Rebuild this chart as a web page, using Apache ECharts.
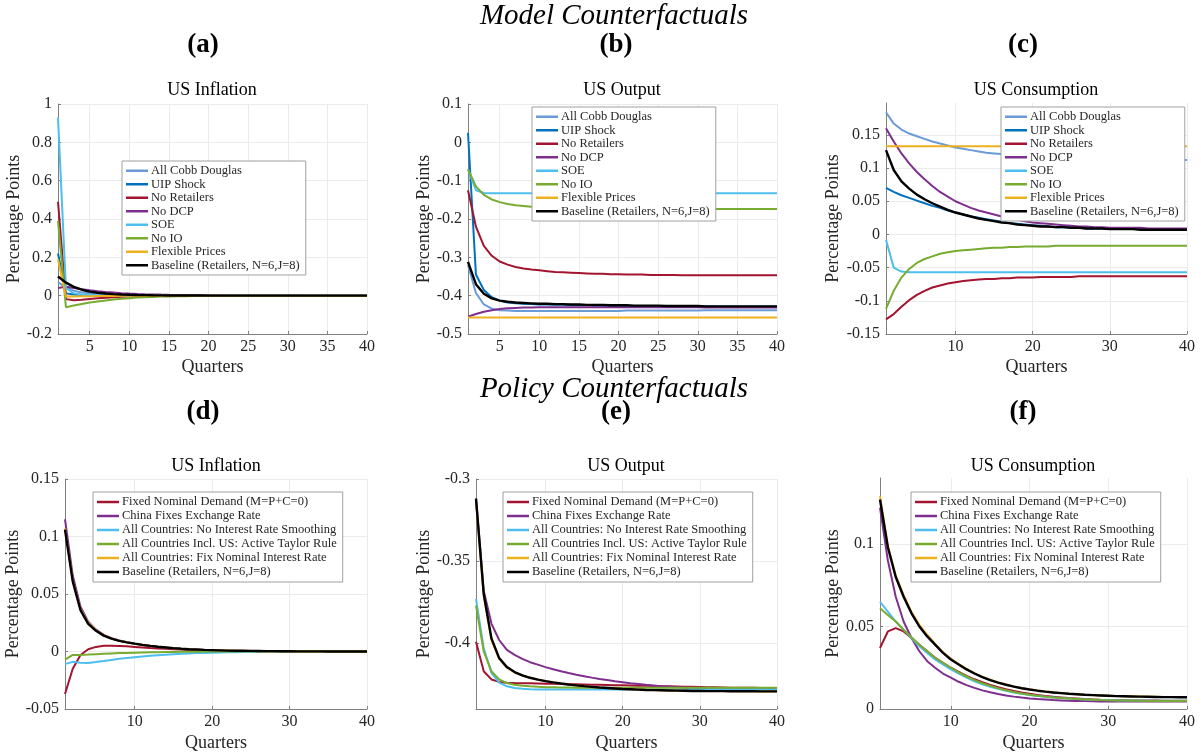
<!DOCTYPE html>
<html>
<head>
<meta charset="utf-8">
<script src="https://cdn.jsdelivr.net/npm/echarts@6/dist/echarts.min.js"></script>
<style>
  html, body { margin: 0; padding: 0; background: #fff; }
  #main { width: 1201px; height: 755px; }
</style>
</head>
<body>
<div id="main"></div>
<script>
// quarters on the x axis
var quarters = [1,2,3,4,5,6,7,8,9,10,11,12,13,14,15,16,17,18,19,20,
  21,22,23,24,25,26,27,28,29,30,31,32,33,34,35,36,37,38,39,40];

// ---- (a) US Inflation, model counterfactuals
var aCobb = [0.07,0.042,0.026,0.017,0.012,0.0085,0.0062,0.0047,0.0036,0.0028,
  0.0022,0.0017,0.0013,0.001,0.0008,0.0006,0.0005,0.0004,0.0003,0.0002,
  0.0002,0.0001,0.0001,0.0001,0,0,0,0,0,0, 0,0,0,0,0,0,0,0,0,0];
var aUIP = [0.22,0.012,0.006,0.004,0.003,0.002,0.0015,0.001,0.0008,0.0006,
  0.0005,0.0004,0.0003,0.0002,0.0002,0.0001,0.0001,0.0001,0,0,
  0,0,0,0,0,0,0,0,0,0, 0,0,0,0,0,0,0,0,0,0];
var aNoRet = [0.49,-0.018,-0.024,-0.021,-0.017,-0.014,-0.011,-0.008,-0.006,-0.0045,
  -0.0035,-0.0025,-0.002,-0.0015,-0.001,-0.0008,-0.0006,-0.0004,-0.0003,-0.0002,
  -0.0001,-0.0001,0,0,0,0,0,0,0,0, 0,0,0,0,0,0,0,0,0,0];
var aNoDCP = [0.04,0.046,0.04,0.034,0.028,0.023,0.019,0.016,0.013,0.011,
  0.0093,0.0078,0.0066,0.0056,0.0047,0.004,0.0034,0.0029,0.0024,0.002,
  0.0017,0.0014,0.0012,0.001,0.0008,0.0007,0.0006,0.0005,0.0004,0.0003,
  0.0003,0.0002,0.0002,0.0002,0.0001,0.0001,0.0001,0.0001,0,0];
var aSOE = [0.93,0.04,0.012,0.006,0.004,0.003,0.002,0.0015,0.001,0.0008,
  0.0006,0.0005,0.0004,0.0003,0.0002,0.0002,0.0001,0.0001,0.0001,0,
  0,0,0,0,0,0,0,0,0,0, 0,0,0,0,0,0,0,0,0,0];
var aNoIO = [0.39,-0.06,-0.051,-0.043,-0.036,-0.03,-0.025,-0.02,-0.016,-0.013,
  -0.01,-0.008,-0.0065,-0.005,-0.004,-0.003,-0.0025,-0.002,-0.0015,-0.001,
  -0.0008,-0.0006,-0.0005,-0.0004,-0.0003,-0.0002,-0.0002,-0.0001,-0.0001,0,
  0,0,0,0,0,0,0,0,0,0];
var aFlex = [0.19,-0.004,-0.004,-0.003,-0.003,-0.002,-0.002,-0.0015,-0.001,-0.001,
  -0.0008,-0.0006,-0.0005,-0.0004,-0.0003,-0.0002,-0.0002,-0.0001,-0.0001,0,
  0,0,0,0,0,0,0,0,0,0, 0,0,0,0,0,0,0,0,0,0];
var aBase = [0.1,0.068,0.046,0.031,0.021,0.015,0.011,0.008,0.006,0.0045,
  0.0035,0.0027,0.002,0.0016,0.0012,0.001,0.0008,0.0006,0.0005,0.0004,
  0.0003,0.0002,0.0002,0.0001,0.0001,0.0001,0,0,0,0, 0,0,0,0,0,0,0,0,0,0];

// ---- (b) US Output, model counterfactuals
var bCobb = [-0.32,-0.393,-0.423,-0.434,-0.438,-0.439,-0.44,-0.44,-0.44,-0.44,
  -0.44,-0.44,-0.44,-0.44,-0.44,-0.44,-0.44,-0.44,-0.44,-0.44,
  -0.439,-0.439,-0.439,-0.439,-0.439,-0.439,-0.439,-0.439,-0.439,-0.439,
  -0.438,-0.438,-0.438,-0.438,-0.438,-0.438,-0.438,-0.438,-0.438,-0.438];
var bUIP = [0.025,-0.345,-0.385,-0.404,-0.413,-0.418,-0.42,-0.421,-0.422,-0.423,
  -0.423,-0.424,-0.424,-0.425,-0.425,-0.425,-0.426,-0.426,-0.426,-0.426,
  -0.427,-0.427,-0.427,-0.427,-0.427,-0.428,-0.428,-0.428,-0.428,-0.428,
  -0.428,-0.428,-0.429,-0.429,-0.429,-0.429,-0.429,-0.429,-0.429,-0.429];
var bNoRet = [-0.125,-0.22,-0.27,-0.296,-0.311,-0.319,-0.325,-0.329,-0.332,-0.334,
  -0.336,-0.338,-0.339,-0.34,-0.341,-0.342,-0.343,-0.343,-0.344,-0.344,
  -0.345,-0.345,-0.345,-0.346,-0.346,-0.346,-0.346,-0.347,-0.347,-0.347,
  -0.347,-0.347,-0.347,-0.347,-0.347,-0.347,-0.347,-0.347,-0.347,-0.347];
var bNoDCP = [-0.455,-0.448,-0.442,-0.438,-0.435,-0.433,-0.432,-0.431,-0.431,-0.43,
  -0.43,-0.43,-0.43,-0.43,-0.43,-0.43,-0.43,-0.43,-0.43,-0.43,
  -0.43,-0.43,-0.43,-0.43,-0.43,-0.43,-0.43,-0.43,-0.43,-0.43,
  -0.431,-0.431,-0.431,-0.431,-0.431,-0.431,-0.431,-0.431,-0.431,-0.431];
var bSOE = [-0.07,-0.125,-0.132,-0.133,-0.133,-0.133,-0.133,-0.133,-0.133,-0.133,
  -0.133,-0.133,-0.133,-0.133,-0.133,-0.133,-0.133,-0.133,-0.133,-0.133,
  -0.133,-0.133,-0.133,-0.133,-0.133,-0.133,-0.133,-0.133,-0.133,-0.133,
  -0.133,-0.133,-0.133,-0.133,-0.133,-0.133,-0.133,-0.133,-0.133,-0.133];
var bNoIO = [-0.07,-0.115,-0.137,-0.149,-0.156,-0.161,-0.164,-0.166,-0.168,-0.169,
  -0.17,-0.171,-0.171,-0.172,-0.172,-0.172,-0.173,-0.173,-0.173,-0.173,
  -0.173,-0.173,-0.173,-0.173,-0.173,-0.173,-0.173,-0.173,-0.173,-0.173,
  -0.174,-0.174,-0.174,-0.174,-0.174,-0.174,-0.174,-0.174,-0.174,-0.174];
var bFlex = [-0.457,-0.457,-0.457,-0.457,-0.457,-0.457,-0.457,-0.457,-0.457,-0.457,
  -0.457,-0.457,-0.457,-0.457,-0.457,-0.457,-0.457,-0.457,-0.457,-0.457,
  -0.457,-0.457,-0.457,-0.457,-0.457,-0.457,-0.457,-0.457,-0.457,-0.457,
  -0.457,-0.457,-0.457,-0.457,-0.457,-0.457,-0.457,-0.457,-0.457,-0.457];
var bBase = [-0.312,-0.37,-0.395,-0.407,-0.413,-0.416,-0.418,-0.419,-0.42,-0.421,
  -0.421,-0.422,-0.422,-0.423,-0.423,-0.424,-0.424,-0.424,-0.425,-0.425,
  -0.425,-0.426,-0.426,-0.426,-0.426,-0.427,-0.427,-0.427,-0.427,-0.427,
  -0.428,-0.428,-0.428,-0.428,-0.428,-0.428,-0.428,-0.428,-0.428,-0.428];

// ---- (c) US Consumption, model counterfactuals
var cCobb = [0.184,0.167,0.158,0.152,0.148,0.144,0.14,0.137,0.134,0.131,
  0.129,0.127,0.125,0.123,0.122,0.121,0.12,0.119,0.118,0.117,
  0.117,0.116,0.116,0.115,0.115,0.115,0.114,0.114,0.114,0.114,
  0.113,0.113,0.113,0.113,0.113,0.113,0.112,0.112,0.112,0.112];
var cUIP = [0.07,0.064,0.059,0.055,0.051,0.047,0.043,0.04,0.036,0.033,
  0.03,0.027,0.025,0.023,0.021,0.019,0.017,0.016,0.015,0.014,
  0.013,0.012,0.011,0.011,0.01,0.01,0.009,0.009,0.009,0.008,
  0.008,0.008,0.008,0.008,0.007,0.007,0.007,0.007,0.007,0.007];
var cNoRet = [-0.128,-0.12,-0.109,-0.099,-0.091,-0.085,-0.08,-0.077,-0.074,-0.072,
  -0.07,-0.069,-0.068,-0.067,-0.067,-0.066,-0.066,-0.065,-0.065,-0.065,
  -0.064,-0.064,-0.064,-0.064,-0.064,-0.063,-0.063,-0.063,-0.063,-0.063,
  -0.063,-0.063,-0.063,-0.063,-0.063,-0.063,-0.063,-0.063,-0.063,-0.063];
var cNoDCP = [0.16,0.14,0.122,0.107,0.094,0.083,0.073,0.064,0.057,0.05,
  0.045,0.04,0.036,0.033,0.03,0.027,0.025,0.022,0.02,0.018,
  0.017,0.016,0.015,0.014,0.013,0.012,0.012,0.011,0.011,0.01,
  0.01,0.01,0.01,0.01,0.009,0.009,0.009,0.009,0.009,0.009];
var cSOE = [-0.008,-0.05,-0.056,-0.057,-0.057,-0.057,-0.057,-0.057,-0.057,-0.057,
  -0.057,-0.057,-0.057,-0.057,-0.057,-0.057,-0.057,-0.057,-0.057,-0.057,
  -0.057,-0.057,-0.057,-0.057,-0.057,-0.057,-0.057,-0.057,-0.057,-0.057,
  -0.057,-0.057,-0.057,-0.057,-0.057,-0.057,-0.057,-0.057,-0.057,-0.057];
var cNoIO = [-0.112,-0.085,-0.065,-0.052,-0.043,-0.037,-0.033,-0.029,-0.027,-0.025,
  -0.024,-0.023,-0.022,-0.021,-0.02,-0.02,-0.019,-0.019,-0.018,-0.018,
  -0.018,-0.018,-0.017,-0.017,-0.017,-0.017,-0.017,-0.017,-0.017,-0.017,
  -0.017,-0.017,-0.017,-0.017,-0.017,-0.017,-0.017,-0.017,-0.017,-0.017];
var cFlex = [0.133,0.133,0.133,0.133,0.133,0.133,0.133,0.133,0.133,0.133,
  0.133,0.133,0.133,0.133,0.133,0.133,0.133,0.133,0.133,0.133,
  0.133,0.133,0.133,0.133,0.133,0.133,0.133,0.133,0.133,0.133,
  0.133,0.133,0.133,0.133,0.133,0.133,0.133,0.133,0.133,0.133];
var cBase = [0.127,0.097,0.08,0.069,0.06,0.053,0.047,0.042,0.037,0.033,
  0.03,0.027,0.024,0.022,0.02,0.018,0.017,0.015,0.014,0.013,
  0.012,0.012,0.011,0.011,0.01,0.01,0.009,0.009,0.009,0.008,
  0.008,0.008,0.008,0.007,0.007,0.007,0.007,0.007,0.007,0.007];

// ---- (d) US Inflation, policy counterfactuals
var dFND = [-0.037,-0.015,-0.003,0.002,0.004,0.005,0.005,0.0048,0.0045,0.004,
  0.0035,0.003,0.0027,0.0023,0.002,0.0017,0.0014,0.0012,0.001,0.0008,
  0.0006,0.0005,0.0004,0.0003,0.0003,0.0002,0.0002,0.0001,0.0001,0.0001,
  0,0,0,0,0,0,0,0,0,0];
var dChina = [0.115,0.066,0.039,0.026,0.019,0.0145,0.0115,0.0095,0.008,0.0067,
  0.0057,0.0048,0.004,0.0034,0.0028,0.0023,0.0019,0.0016,0.0013,0.0011,
  0.0009,0.0007,0.0006,0.0005,0.0004,0.0003,0.0003,0.0002,0.0002,0.0001,
  0.0001,0.0001,0,0,0,0,0,0,0,0];
var dNoSmooth = [-0.011,-0.009,-0.0098,-0.0099,-0.0092,-0.0083,-0.0073,-0.0064,-0.0056,-0.0049,
  -0.0043,-0.0037,-0.0032,-0.0028,-0.0024,-0.002,-0.0017,-0.0014,-0.0012,-0.001,
  -0.0008,-0.0007,-0.0006,-0.0005,-0.0004,-0.0003,-0.0003,-0.0002,-0.0002,-0.0001,
  -0.0001,0,0,0,0,0,0,0,0,0];
var dTaylor = [-0.007,-0.003,-0.003,-0.0027,-0.0023,-0.002,-0.0017,-0.0014,-0.0012,-0.001,
  -0.0008,-0.0007,-0.0006,-0.0005,-0.0004,-0.0003,-0.0002,-0.0002,-0.0001,-0.0001,
  0,0,0,0,0,0,0,0,0,0, 0,0,0,0,0,0,0,0,0,0];
var dFixR = [0.107,0.062,0.037,0.025,0.0185,0.0142,0.0114,0.0094,0.008,0.0068,
  0.0058,0.0049,0.0041,0.0035,0.0029,0.0024,0.002,0.0017,0.0014,0.0012,
  0.001,0.0008,0.0007,0.0006,0.0005,0.0004,0.0003,0.0003,0.0002,0.0002,
  0.0001,0.0001,0.0001,0.0001,0,0,0,0,0,0];
var dBase = [0.106,0.061,0.036,0.024,0.018,0.0138,0.0112,0.0093,0.0079,0.0068,
  0.0058,0.0049,0.0041,0.0035,0.0029,0.0024,0.002,0.0017,0.0014,0.0012,
  0.001,0.0008,0.0007,0.0006,0.0005,0.0004,0.0003,0.0003,0.0002,0.0002,
  0.0001,0.0001,0.0001,0.0001,0,0,0,0,0,0];

// ---- (e) US Output, policy counterfactuals
var eFND = [-0.399,-0.417,-0.422,-0.4235,-0.424,-0.4242,-0.4243,-0.4244,-0.4245,-0.4246,
  -0.4247,-0.4248,-0.4249,-0.425,-0.4251,-0.4252,-0.4253,-0.4254,-0.4255,-0.4256,
  -0.4257,-0.4258,-0.4259,-0.426,-0.4261,-0.4262,-0.4263,-0.4264,-0.4265,-0.4266,
  -0.4267,-0.4268,-0.4269,-0.427,-0.427,-0.4271,-0.4271,-0.4272,-0.4272,-0.4273];
var eChina = [-0.312,-0.368,-0.388,-0.398,-0.404,-0.407,-0.4095,-0.4115,-0.413,-0.4145,
  -0.4158,-0.417,-0.4181,-0.4191,-0.42,-0.4209,-0.4217,-0.4224,-0.4231,-0.4237,
  -0.4243,-0.4248,-0.4253,-0.4257,-0.4261,-0.4264,-0.4267,-0.427,-0.4272,-0.4274,
  -0.4275,-0.4276,-0.4277,-0.4278,-0.4278,-0.4279,-0.4279,-0.4279,-0.428,-0.428];
var eNoSmooth = [-0.373,-0.403,-0.418,-0.424,-0.4262,-0.4272,-0.4277,-0.428,-0.4281,-0.4282,
  -0.4282,-0.4282,-0.4282,-0.4282,-0.4282,-0.4282,-0.4282,-0.4282,-0.4282,-0.4282,
  -0.4282,-0.4282,-0.4281,-0.4281,-0.4281,-0.4281,-0.4281,-0.4281,-0.428,-0.428,
  -0.428,-0.428,-0.428,-0.428,-0.428,-0.428,-0.428,-0.428,-0.428,-0.428];
var eTaylor = [-0.377,-0.405,-0.417,-0.422,-0.4242,-0.4252,-0.4258,-0.4262,-0.4265,-0.4267,
  -0.4268,-0.4269,-0.4269,-0.427,-0.427,-0.427,-0.427,-0.427,-0.427,-0.427,
  -0.427,-0.427,-0.427,-0.427,-0.427,-0.427,-0.427,-0.427,-0.427,-0.427,
  -0.427,-0.427,-0.427,-0.427,-0.427,-0.427,-0.427,-0.427,-0.427,-0.427];
var eFixR = [-0.313,-0.371,-0.398,-0.4095,-0.4148,-0.4177,-0.4196,-0.421,-0.4221,-0.423,
  -0.4238,-0.4245,-0.4251,-0.4256,-0.4261,-0.4265,-0.4269,-0.4272,-0.4275,-0.4278,
  -0.428,-0.4282,-0.4284,-0.4285,-0.4286,-0.4287,-0.4288,-0.4289,-0.429,-0.429,
  -0.4291,-0.4291,-0.4291,-0.4292,-0.4292,-0.4292,-0.4292,-0.4293,-0.4293,-0.4293];
var eBase = [-0.312,-0.37,-0.397,-0.409,-0.4145,-0.4175,-0.4195,-0.421,-0.4221,-0.423,
  -0.4238,-0.4245,-0.4251,-0.4256,-0.4261,-0.4265,-0.4269,-0.4272,-0.4275,-0.4278,
  -0.428,-0.4282,-0.4284,-0.4285,-0.4286,-0.4287,-0.4288,-0.4289,-0.429,-0.429,
  -0.4291,-0.4291,-0.4291,-0.4292,-0.4292,-0.4292,-0.4292,-0.4293,-0.4293,-0.4293];

// ---- (f) US Consumption, policy counterfactuals
var fFND = [0.037,0.047,0.049,0.047,0.043,0.039,0.035,0.031,0.028,0.025,
  0.0225,0.02,0.018,0.0162,0.0146,0.0132,0.012,0.0109,0.01,0.0092,
  0.0085,0.0079,0.0074,0.007,0.0066,0.0063,0.006,0.0058,0.0056,0.0055,
  0.0054,0.0053,0.0052,0.0052,0.0051,0.0051,0.005,0.005,0.005,0.005];
var fChina = [0.122,0.09,0.068,0.053,0.043,0.035,0.029,0.025,0.0215,0.019,
  0.0165,0.0145,0.0128,0.0113,0.0101,0.0091,0.0082,0.0075,0.0069,0.0064,
  0.006,0.0057,0.0054,0.0052,0.005,0.0049,0.0048,0.0047,0.0046,0.0046,
  0.0045,0.0045,0.0045,0.0045,0.0045,0.0045,0.0045,0.0045,0.0045,0.0045];
var fNoSmooth = [0.065,0.059,0.053,0.048,0.043,0.038,0.034,0.03,0.027,0.024,
  0.0215,0.019,0.0168,0.015,0.0135,0.0122,0.011,0.01,0.0092,0.0085,
  0.0079,0.0074,0.007,0.0066,0.0063,0.006,0.0058,0.0056,0.0055,0.0054,
  0.0053,0.0052,0.0051,0.0051,0.005,0.005,0.005,0.005,0.005,0.005];
var fTaylor = [0.061,0.057,0.053,0.048,0.0435,0.039,0.035,0.031,0.028,0.025,
  0.0222,0.0197,0.0175,0.0156,0.014,0.0126,0.0114,0.0103,0.0094,0.0087,
  0.008,0.0075,0.007,0.0066,0.0063,0.006,0.0058,0.0056,0.0054,0.0053,
  0.0052,0.0051,0.005,0.005,0.0049,0.0049,0.0048,0.0048,0.0048,0.0048];
var fFixR = [0.129,0.099,0.081,0.069,0.059,0.051,0.045,0.0395,0.0345,0.0305,
  0.0272,0.0243,0.0217,0.0195,0.0177,0.0161,0.0148,0.0137,0.0127,0.0119,
  0.0112,0.0106,0.0101,0.0097,0.0093,0.009,0.0087,0.0085,0.0083,0.0081,
  0.0079,0.0078,0.0077,0.0076,0.0075,0.0074,0.0073,0.0073,0.0072,0.0072];
var fBase = [0.127,0.098,0.08,0.068,0.058,0.05,0.044,0.039,0.034,0.03,
  0.027,0.024,0.0215,0.0193,0.0175,0.016,0.0147,0.0136,0.0126,0.0118,
  0.0111,0.0105,0.01,0.0096,0.0092,0.0089,0.0086,0.0084,0.0082,0.008,
  0.0078,0.0077,0.0076,0.0075,0.0074,0.0073,0.0072,0.0072,0.0071,0.0071];

// tick labels
var xTicks5 = [5,10,15,20,25,30,35,40];
var xTicks10 = [10,20,30,40];
var yTicksA = [-0.2,0,0.2,0.4,0.6,0.8,1];
var yTicksB = [-0.5,-0.4,-0.3,-0.2,-0.1,0,0.1];
var yTicksC = [-0.15,-0.1,-0.05,0,0.05,0.1,0.15];
var yTicksD = [-0.05,0,0.05,0.1,0.15];
var yTicksE = [-0.4,-0.35,-0.3];
var yTicksF = [0,0.05,0.1];

var modelNames = ['All Cobb Douglas','UIP Shock','No Retailers','No DCP','SOE','No IO',
  'Flexible Prices','Baseline (Retailers, N=6,J=8)'];
var policyNames = ['Fixed Nominal Demand (M=P+C=0)','China Fixes Exchange Rate',
  'All Countries: No Interest Rate Smoothing','All Countries Incl. US: Active Taylor Rule',
  'All Countries: Fix Nominal Interest Rate','Baseline (Retailers, N=6,J=8)'];
var modelColors = ['#6a9bd6','#0072BD','#A2142F','#7E2F8E','#4DBEEE','#77AC30','#EDB120','#000000'];
var policyColors = ['#A2142F','#7E2F8E','#4DBEEE','#77AC30','#EDB120','#000000'];

var FONT = '"Liberation Serif", "Times New Roman", serif';
var chart = echarts.init(document.getElementById('main'));

var grids = [
  {left: 58, top: 104, width: 309, height: 230},
  {left: 468, top: 104, width: 309, height: 230},
  {left: 886, top: 103, width: 301, height: 231},
  {left: 65, top: 479, width: 302, height: 230},
  {left: 476, top: 479, width: 301, height: 230},
  {left: 880, top: 478, width: 307, height: 231}
];
var xTickSets = [xTicks5, xTicks5, xTicks10, xTicks10, xTicks10, xTicks10];
var yTickSets = [yTicksA, yTicksB, yTicksC, yTicksD, yTicksE, yTicksF];
var yRanges = [[-0.2, 1], [-0.5, 0.1], [-0.15, 0.198], [-0.05, 0.15], [-0.44, -0.3], [0, 0.14]];
var yNameGaps = [34, 34, 44, 41, 42, 36];
var xNameGaps = [24, 24, 24, 25, 25, 25];

function fmt(v) { return String(+v.toFixed(2)); }

var xAxes = grids.map(function (g, i) {
  return {
    type: 'value', gridIndex: i, min: 1, max: 40,
    name: 'Quarters', nameLocation: 'middle', nameGap: xNameGaps[i],
    nameTextStyle: {fontFamily: FONT, fontSize: 18, color: '#262626'},
    axisLine: {show: true, onZero: false, lineStyle: {color: '#808080', width: 1}},
    axisTick: {show: true, inside: true, length: 3, customValues: xTickSets[i],
      lineStyle: {color: '#808080'}},
    axisLabel: {customValues: xTickSets[i], fontFamily: FONT, fontSize: 16,
      color: '#262626', margin: 5, formatter: fmt},
    splitLine: {show: true, lineStyle: {color: '#ebebeb', width: 1}}
  };
});
var yAxes = grids.map(function (g, i) {
  return {
    type: 'value', gridIndex: i, min: yRanges[i][0], max: yRanges[i][1],
    name: 'Percentage Points', nameLocation: 'middle', nameGap: yNameGaps[i],
    nameTextStyle: {fontFamily: FONT, fontSize: 18, color: '#262626'},
    axisLine: {show: true, onZero: false, lineStyle: {color: '#808080', width: 1}},
    axisTick: {show: true, inside: true, length: 3, customValues: yTickSets[i],
      lineStyle: {color: '#808080'}},
    axisLabel: {customValues: yTickSets[i], fontFamily: FONT, fontSize: 16,
      color: '#262626', margin: 6, formatter: fmt},
    splitLine: {show: true, lineStyle: {color: '#ebebeb', width: 1}}
  };
});

function mk(name, color, vals, idx) {
  return {
    name: name, type: 'line', xAxisIndex: idx, yAxisIndex: idx,
    data: quarters.map(function (q, k) { return [q, vals[k]]; }),
    showSymbol: false, symbol: 'none', color: color,
    lineStyle: {width: name.indexOf('Baseline') === 0 ? 2.4 : 2},
    emphasis: {disabled: true}
  };
}

var modelData = [
  [aCobb, aUIP, aNoRet, aNoDCP, aSOE, aNoIO, aFlex, aBase],
  [bCobb, bUIP, bNoRet, bNoDCP, bSOE, bNoIO, bFlex, bBase],
  [cCobb, cUIP, cNoRet, cNoDCP, cSOE, cNoIO, cFlex, cBase]
];
var policyData = [
  [dFND, dChina, dNoSmooth, dTaylor, dFixR, dBase],
  [eFND, eChina, eNoSmooth, eTaylor, eFixR, eBase],
  [fFND, fChina, fNoSmooth, fTaylor, fFixR, fBase]
];

var series = [];
modelData.forEach(function (set, p) {
  set.forEach(function (vals, k) { series.push(mk(modelNames[k], modelColors[k], vals, p)); });
});
policyData.forEach(function (set, p) {
  set.forEach(function (vals, k) { series.push(mk(policyNames[k], policyColors[k], vals, p + 3)); });
});

function legendAt(left, top, names, lh) {
  return {
    orient: 'vertical', left: left, top: top, data: names,
    icon: 'rect', itemWidth: 22, itemHeight: 2.5, itemGap: 0,
    padding: [3, 6, 3, 4], backgroundColor: '#fff',
    borderColor: '#a0a0a0', borderWidth: 1, borderRadius: 0,
    selectedMode: false,
    textStyle: {fontFamily: FONT, fontSize: 12.5, color: '#262626', lineHeight: lh, padding: [0, 0, 0, -2]}
  };
}

function txt(s, x, y, size, style, weight) {
  return {
    type: 'text', x: x, y: y, z: 100,
    style: {text: s, fill: '#000', align: 'center', verticalAlign: 'middle',
      fontFamily: FONT, fontSize: size, fontStyle: style || 'normal', fontWeight: weight || 'normal'}
  };
}

var option = {
  animation: false,
  backgroundColor: '#fff',
  grid: grids,
  xAxis: xAxes,
  yAxis: yAxes,
  legend: [
    legendAt(122, 161, modelNames, 13.5),
    legendAt(532, 107, modelNames, 13.5),
    legendAt(1001, 107, modelNames, 13.5),
    legendAt(93, 492, policyNames, 14),
    legendAt(503, 492, policyNames, 14),
    legendAt(911, 492, policyNames, 14)
  ],
  graphic: [
    txt('Model Counterfactuals', 614, 16, 29, 'italic'),
    txt('(a)', 203, 45, 27, 'normal', 'bold'),
    txt('(b)', 616, 45, 27, 'normal', 'bold'),
    txt('(c)', 1023, 45, 27, 'normal', 'bold'),
    txt('US Inflation', 212, 90, 18),
    txt('US Output', 622, 90, 18),
    txt('US Consumption', 1036, 90, 18),
    txt('Policy Counterfactuals', 614, 389, 29, 'italic'),
    txt('(d)', 203, 412, 27, 'normal', 'bold'),
    txt('(e)', 616, 412, 27, 'normal', 'bold'),
    txt('(f)', 1023, 412, 27, 'normal', 'bold'),
    txt('US Inflation', 216, 466, 18),
    txt('US Output', 626, 466, 18),
    txt('US Consumption', 1033, 466, 18)
  ],
  series: series
};

chart.setOption(option);
</script>
</body>
</html>
